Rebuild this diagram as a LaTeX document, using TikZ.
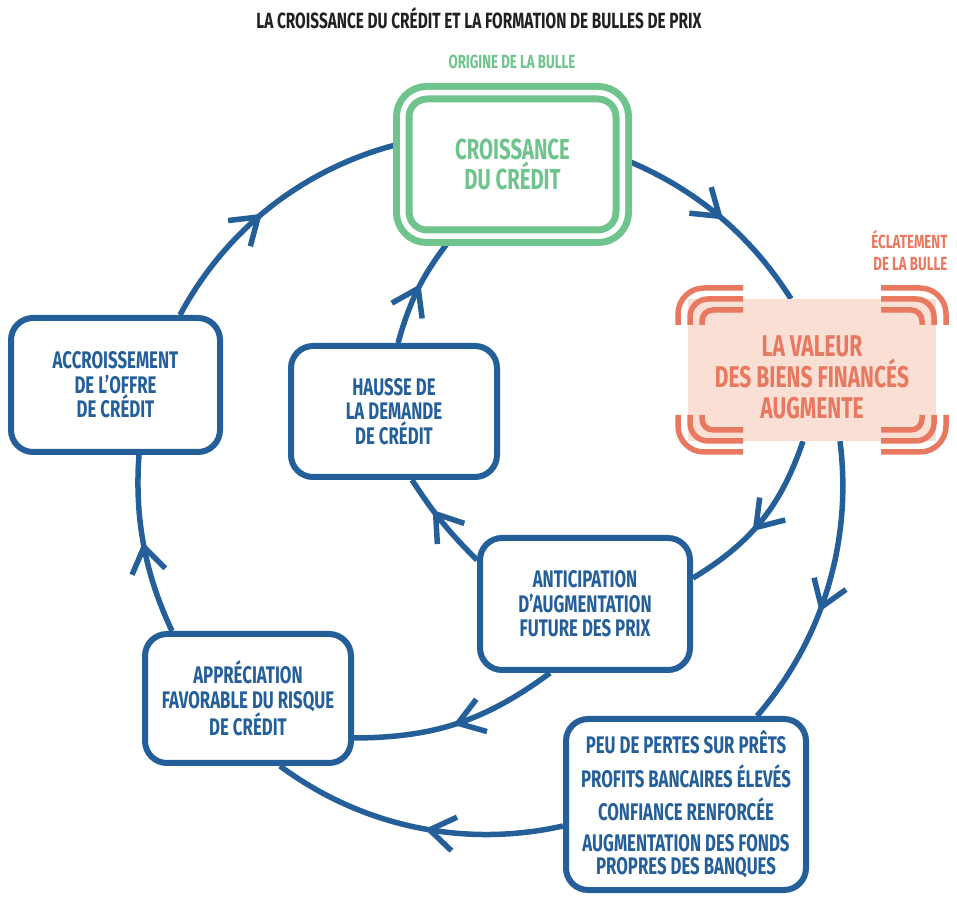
\documentclass[tikz,border=0pt]{standalone}
\usepackage{fontspec}
\setmainfont{Fira Sans}[FakeStretch=0.70]
\usetikzlibrary{decorations.markings,backgrounds}

\definecolor{cblue}{HTML}{245F99}
\definecolor{cgreen}{HTML}{6EC48C}
\definecolor{corange}{HTML}{E8785F}
\definecolor{cpink}{HTML}{FADFD4}
\definecolor{ctitle}{HTML}{231F20}

\newcommand\fTitle{\bfseries\fontsize{22}{24}\selectfont}
\newcommand\fLabel{\bfseries\fontsize{19}{22}\selectfont}
\newcommand\fBig{\bfseries\fontsize{29}{30}\selectfont}
\newcommand\fRed{\bfseries\fontsize{30}{31}\selectfont}
\newcommand\fBox{\bfseries\fontsize{24}{24.5}\selectfont}
\newcommand\fList{\bfseries\fontsize{24}{22.5}\selectfont}

\begin{document}
\begin{tikzpicture}[x=1pt,y=1pt,
  box/.style={draw=cblue, line width=6pt, rounded corners=22pt, fill=white,
    align=center, text=cblue, font=\fBox, inner sep=0pt},
  flow/.style={draw=cblue, line width=5.5pt},
  chev/.style={postaction={decorate}, decoration={markings,
    mark=at position #1 with {\draw[cblue, line width=5.5pt, line join=miter]
      (-25pt,17pt) -- (0pt,0pt) -- (-25pt,-17pt);}}},
  bracket/.style={draw=corange, line width=5.5pt},
]
\useasboundingbox (0,0) rectangle (957,896);

% titles
\node[text=ctitle, font=\fTitle] (title) at (479,878)
  {LA CROISSANCE DU CRÉDIT ET LA FORMATION DE BULLES DE PRIX};
\node[text=cgreen, font=\fLabel] (origine) at (512,834) {ORIGINE DE LA BULLE};
\node[text=corange, font=\fLabel, align=right, anchor=east] (eclat) at (951,645)
  {ÉCLATEMENT\\DE LA BULLE};

% origin of the bubble
\node[draw=cgreen, line width=7pt, double=white, double distance=5.5pt,
  rounded corners=24pt, fill=white, minimum width=219.5pt, minimum height=143.5pt,
  text=cgreen, align=center, font=\fBig, inner sep=0pt] (green) at (512.5,731.5)
  {CROISSANCE\\DU CRÉDIT};

% bursting point
\node[fill=cpink, minimum width=248pt, minimum height=142pt, inner sep=0pt] (red) at (812,526) {};
\node[text=corange, align=center, font=\fRed] (redtext) at (812,519)
  {LA VALEUR\\DES BIENS FINANCÉS\\AUGMENTE};

% corner brackets around the bursting point
\draw[bracket, rounded corners=26pt] (678,571) -- (678,608) -- (743,608);
\draw[bracket, rounded corners=18pt] (690,571) -- (690,597) -- (743,597);
\draw[bracket, rounded corners=11pt] (702,571) -- (702,586) -- (743,586);
\draw[bracket, rounded corners=26pt] (946,571) -- (946,608) -- (881,608);
\draw[bracket, rounded corners=18pt] (934,571) -- (934,597) -- (881,597);
\draw[bracket, rounded corners=11pt] (922,571) -- (922,586) -- (881,586);
\draw[bracket, rounded corners=26pt] (678,481) -- (678,444) -- (743,444);
\draw[bracket, rounded corners=18pt] (690,481) -- (690,455) -- (743,455);
\draw[bracket, rounded corners=11pt] (702,481) -- (702,466) -- (743,466);
\draw[bracket, rounded corners=26pt] (946,481) -- (946,444) -- (881,444);
\draw[bracket, rounded corners=18pt] (934,481) -- (934,455) -- (881,455);
\draw[bracket, rounded corners=11pt] (922,481) -- (922,466) -- (881,466);

% blue boxes
\node[box, minimum width=209pt, minimum height=134pt] (acc) at (115.5,511)
  {ACCROISSEMENT\\DE L’OFFRE\\DE CRÉDIT};
\node[box, minimum width=206pt, minimum height=131pt] (hausse) at (394,484.5)
  {HAUSSE DE\\LA DEMANDE\\DE CRÉDIT};
\node[box, minimum width=210pt, minimum height=132pt] (antic) at (585,292)
  {ANTICIPATION\\D’AUGMENTATION\\FUTURE DES PRIX};
\node[box, minimum width=206pt, minimum height=129pt] (appr) at (248,197.5)
  {APPRÉCIATION\\FAVORABLE DU RISQUE\\DE CRÉDIT};
\node[box, minimum width=240pt, minimum height=171pt, font=\fList] (peu) at (686,91.5)
  {PEU DE PERTES SUR PRÊTS\\[9pt]PROFITS BANCAIRES ÉLEVÉS\\[9pt]CONFIANCE RENFORCÉE\\[9pt]AUGMENTATION DES FONDS\\PROPRES DES BANQUES};

% connectors
\begin{scope}[on background layer]
\draw[flow, chev=0.5] ([yshift=4.5pt]green.east) to[bend left=17.5, looseness=0.9] ([xshift=-21pt]red.north);
\draw[flow, chev=0.57] ([xshift=28pt]red.south) to[bend left=24, looseness=0.9] ([xshift=71pt]peu.north);
\draw[flow, chev=0.45] ([yshift=-21.5pt]peu.west) to[bend left=24.6, looseness=0.9] ([xshift=32pt]appr.south);
\draw[flow, chev=0.49] ([xshift=-76pt]appr.north) to[bend left=14.8, looseness=0.9] ([xshift=23.5pt]acc.south);
\draw[flow, chev=0.44] ([xshift=64.5pt]acc.north) to[bend left=23.8, looseness=0.9] ([yshift=20.5pt]green.west);
\draw[flow, chev=0.55] ([xshift=-9pt]red.south) to[bend left=20] ([yshift=26pt]antic.east);
\draw[flow, chev=0.6] ([yshift=44pt]antic.west) to[bend left=6] ([xshift=18pt]hausse.south);
\draw[flow, chev=0.5] ([xshift=4pt]hausse.north) to[bend left=11] ([xshift=-62.5pt]green.south);
\draw[flow, chev=0.5] ([xshift=-35pt]antic.south) to[bend left=18] ([yshift=-39.5pt]appr.east);
\end{scope}
\end{tikzpicture}
\end{document}
